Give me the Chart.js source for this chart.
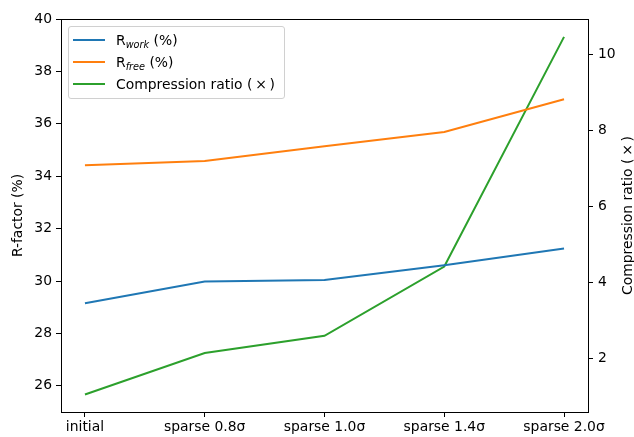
<!DOCTYPE html>
<html>
<head>
<meta charset="utf-8">
<script src="https://cdn.jsdelivr.net/npm/chart.js@4/dist/chart.umd.min.js"></script>
<style>
  html, body { margin: 0; padding: 0; background: #fff; }
  #wrap { position: relative; width: 634px; height: 437px; }
  #legend {
    position: absolute; left: 68px; top: 26px; width: 217px; height: 73px;
    border: 1px solid #d0d0d0; border-radius: 3px; background: rgba(255,255,255,0.8);
    font-family: 'DejaVu Sans', sans-serif; font-size: 13.9px; color: #000;
    box-sizing: border-box;
  }
  .row { position: absolute; left: 0; height: 20px; line-height: 20px; white-space: nowrap; }
  .swatch { position: absolute; left: 4px; top: 9px; width: 32px; height: 2px; }
  .label { position: absolute; left: 47px; top: 0; }
  .label sub { font-style: italic; font-size: 9.7px; vertical-align: -3px; }
</style>
</head>
<body>
<div id="wrap">
  <canvas id="chart" width="634" height="437"></canvas>
  <div id="legend"></div>
</div>
<script>
const categories = ['initial', 'sparse 0.8σ', 'sparse 1.0σ', 'sparse 1.4σ', 'sparse 2.0σ'];
const rWork = [29.15, 29.98, 30.04, 30.6, 31.24];
const rFree = [34.42, 34.58, 35.14, 35.69, 36.94];
const compression = [1.06, 2.15, 2.6, 4.42, 10.45];

const leftTicks = [26, 28, 30, 32, 34, 36, 38, 40];
const rightTicks = [2, 4, 6, 8, 10];
const xTicks = [0, 1, 2, 3, 4];

const BLUE = '#1f77b4';
const ORANGE = '#ff7f0e';
const GREEN = '#2ca02c';
const FONT = { family: "'DejaVu Sans', sans-serif", size: 13.9 };
const RATIO_LABEL = 'Compression ratio (\u2009×\u2009)';

const legendItems = [
  { color: BLUE, html: 'R<sub>work</sub> (%)' },
  { color: ORANGE, html: 'R<sub>free</sub> (%)' },
  { color: GREEN, html: RATIO_LABEL },
];

function toPoints(values) {
  return values.map((v, i) => ({ x: i, y: v }));
}

function buildLegend() {
  const box = document.getElementById('legend');
  legendItems.forEach((item, i) => {
    const row = document.createElement('div');
    row.className = 'row';
    row.style.top = (3 + i * 22) + 'px';
    row.innerHTML = `<span class="swatch" style="background:${item.color}"></span><span class="label">${item.html}</span>`;
    box.appendChild(row);
  });
}

// caixa completa em volta da área do gráfico + título do eixo direito
const framePlugin = {
  id: 'frame',
  afterDraw(chart) {
    const { ctx, chartArea } = chart;
    ctx.save();
    ctx.strokeStyle = '#000';
    ctx.lineWidth = 1;
    ctx.strokeRect(chartArea.left + 0.5, chartArea.top + 0.5,
      chartArea.right - chartArea.left, chartArea.bottom - chartArea.top);

    ctx.translate(628, (chartArea.top + chartArea.bottom) / 2);
    ctx.rotate(-Math.PI / 2);
    ctx.font = `${FONT.size}px ${FONT.family}`;
    ctx.fillStyle = '#000';
    ctx.textAlign = 'center';
    ctx.textBaseline = 'middle';
    ctx.fillText(RATIO_LABEL, 0, 0);
    ctx.restore();
  },
};

function fixedTicks(list) {
  return (axis) => { axis.ticks = list.map((v) => ({ value: v })); };
}

function initChart() {
  const ctx = document.getElementById('chart');
  const lineDs = (label, data, color, axis) => ({
    label,
    data: toPoints(data),
    borderColor: color,
    backgroundColor: color,
    borderWidth: 2,
    pointRadius: 0,
    tension: 0,
    yAxisID: axis,
  });

  new Chart(ctx, {
    type: 'line',
    data: {
      datasets: [
        lineDs('Rwork (%)', rWork, BLUE, 'y'),
        lineDs('Rfree (%)', rFree, ORANGE, 'y'),
        lineDs(RATIO_LABEL, compression, GREEN, 'y1'),
      ],
    },
    options: {
      responsive: false,
      animation: false,
      devicePixelRatio: 1,
      layout: { padding: { top: 19, left: 0, right: 0, bottom: 0 } },
      plugins: {
        legend: { display: false },
        tooltip: { enabled: false },
      },
      scales: {
        x: {
          type: 'linear',
          min: -0.2,
          max: 4.2,
          afterBuildTicks: fixedTicks(xTicks),
          afterFit: (s) => { s.height = 25; },
          grid: { drawOnChartArea: false, drawTicks: true, tickLength: 5, tickColor: '#000', tickWidth: 1 },
          border: { display: true, color: '#000', width: 1 },
          ticks: {
            color: '#000', font: FONT, padding: 2, maxRotation: 0, autoSkip: false,
            callback: (v) => categories[v] ?? '',
          },
        },
        y: {
          position: 'left',
          min: 25,
          max: 40,
          afterBuildTicks: fixedTicks(leftTicks),
          afterFit: (s) => { s.width = 61; },
          grid: { drawOnChartArea: false, drawTicks: true, tickLength: 5, tickColor: '#000', tickWidth: 1 },
          border: { display: true, color: '#000', width: 1 },
          ticks: { color: '#000', font: FONT, padding: 4 },
          title: {
            display: true, text: 'R-factor (%)', color: '#000',
            font: { ...FONT, lineHeight: 1 }, padding: { top: 11, bottom: 0 },
          },
        },
        y1: {
          position: 'right',
          min: 0.6,
          max: 10.92,
          afterBuildTicks: fixedTicks(rightTicks),
          afterFit: (s) => { s.width = 46; },
          grid: { drawOnChartArea: false, drawTicks: true, tickLength: 5, tickColor: '#000', tickWidth: 1 },
          border: { display: true, color: '#000', width: 1 },
          ticks: { color: '#000', font: FONT, padding: 5 },
        },
      },
    },
    plugins: [framePlugin],
  });
}

document.addEventListener('DOMContentLoaded', () => {
  buildLegend();
  initChart();
});
</script>
</body>
</html>
